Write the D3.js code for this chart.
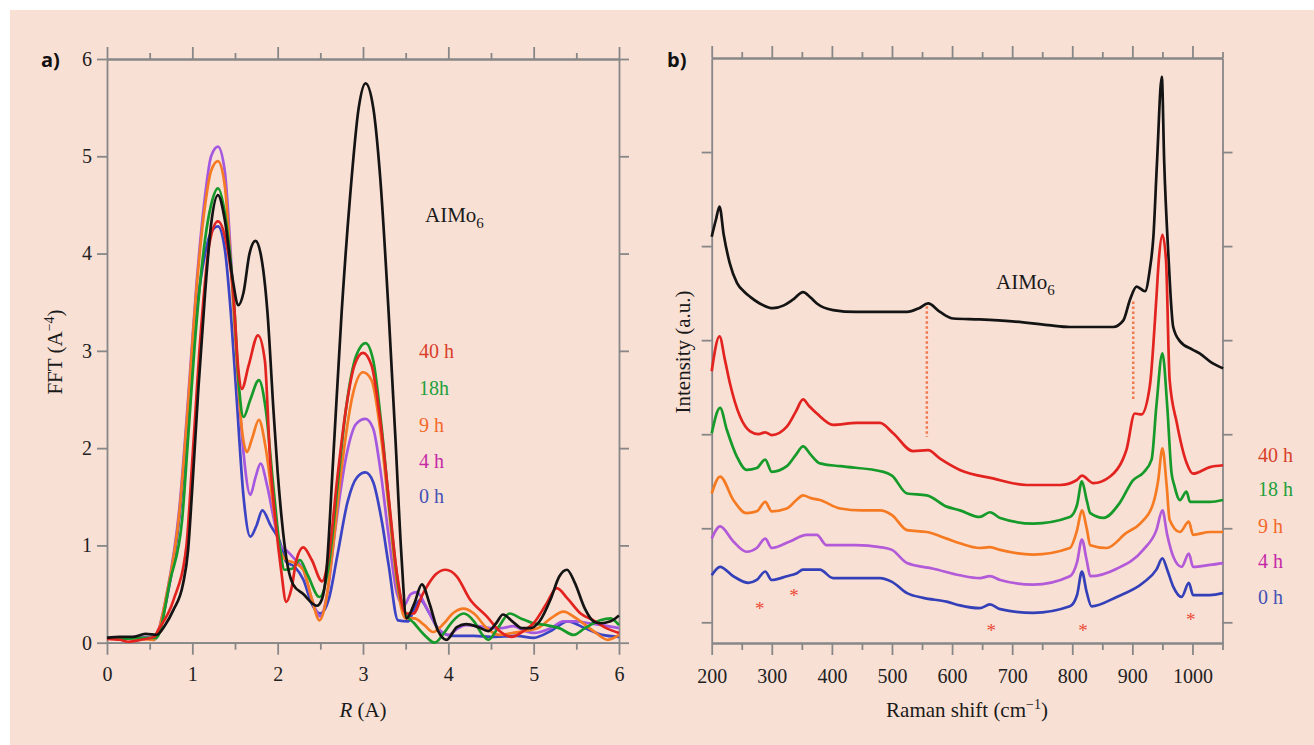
<!DOCTYPE html>
<html>
<head>
<meta charset="utf-8">
<script src="https://cdn.jsdelivr.net/npm/d3@7"></script>
<style>
  body { margin: 0; background: #fff; }
  text { font-family: "Liberation Serif", "Times New Roman", serif; }
</style>
</head>
<body>
<svg id="chart" width="1314" height="745"></svg>
<script>
// ---- panel a: FFT magnitude vs R ----
const rMajor = [0, 1, 2, 3, 4, 5, 6]
const rMinor = [0.5, 1.5, 2.5, 3.5, 4.5, 5.5]
const fftTicks = [0, 1, 2, 3, 4, 5, 6]

const fftAlMo6 = [[0,0.05],[0.15,0.06],[0.3,0.06],[0.45,0.09],[0.58,0.08],[0.68,0.18],[0.78,0.34],[0.89,0.6],[0.95,0.95],[1.0,1.6],[1.07,2.6],[1.15,3.6],[1.22,4.3],[1.3,4.6],[1.38,4.35],[1.47,3.75],[1.54,3.47],[1.6,3.6],[1.67,4.0],[1.74,4.13],[1.8,4.0],[1.88,3.4],[1.95,2.4],[2.0,1.75],[2.05,1.25],[2.1,0.88],[2.18,0.6],[2.3,0.5],[2.46,0.38],[2.52,0.45],[2.57,0.72],[2.65,1.88],[2.75,3.4],[2.85,4.6],[2.95,5.5],[3.03,5.75],[3.12,5.5],[3.2,4.8],[3.3,3.4],[3.38,2.1],[3.45,0.9],[3.51,0.25],[3.6,0.4],[3.69,0.6],[3.78,0.4],[3.88,0.12],[3.98,0.03],[4.1,0.16],[4.21,0.19],[4.35,0.16],[4.47,0.12],[4.56,0.2],[4.64,0.29],[4.75,0.22],[4.86,0.15],[4.96,0.15],[5.07,0.22],[5.2,0.45],[5.3,0.68],[5.39,0.75],[5.48,0.62],[5.6,0.35],[5.7,0.22],[5.78,0.2],[5.9,0.22],[6.0,0.28]]
const fft40h = [[0,0.04],[0.15,0.03],[0.25,0.01],[0.4,0.03],[0.55,0.06],[0.6,0.13],[0.78,0.44],[0.93,0.99],[1.0,1.88],[1.1,3.2],[1.2,4.1],[1.3,4.33],[1.4,4.1],[1.48,3.6],[1.54,2.8],[1.58,2.61],[1.66,2.85],[1.77,3.16],[1.85,2.9],[1.91,1.9],[1.98,1.2],[2.04,0.75],[2.1,0.42],[2.16,0.55],[2.22,0.85],[2.3,0.98],[2.4,0.85],[2.52,0.63],[2.6,0.9],[2.7,1.7],[2.8,2.4],[2.9,2.85],[3.0,2.98],[3.1,2.85],[3.2,2.3],[3.3,1.5],[3.4,0.7],[3.5,0.3],[3.59,0.3],[3.7,0.5],[3.85,0.7],[3.97,0.75],[4.1,0.68],[4.25,0.45],[4.45,0.27],[4.6,0.12],[4.74,0.06],[4.88,0.12],[5.0,0.2],[5.15,0.4],[5.27,0.56],[5.4,0.45],[5.55,0.3],[5.7,0.23],[5.85,0.15],[6.0,0.1]]
const fft18h = [[0,0.05],[0.2,0.04],[0.4,0.05],[0.58,0.05],[0.74,0.64],[0.88,1.26],[0.95,2.1],[1.05,3.3],[1.15,4.15],[1.22,4.5],[1.3,4.67],[1.4,4.3],[1.48,3.6],[1.55,2.6],[1.6,2.32],[1.68,2.5],[1.78,2.7],[1.86,2.4],[1.95,1.6],[2.03,0.95],[2.08,0.75],[2.17,0.76],[2.26,0.85],[2.35,0.7],[2.49,0.47],[2.6,0.8],[2.7,1.6],[2.8,2.4],[2.92,2.95],[3.03,3.08],[3.12,2.9],[3.22,2.2],[3.32,1.3],[3.42,0.55],[3.5,0.3],[3.6,0.2],[3.72,0.08],[3.84,0.0],[3.95,0.1],[4.05,0.22],[4.18,0.3],[4.3,0.22],[4.4,0.08],[4.47,0.03],[4.58,0.15],[4.72,0.3],[4.85,0.25],[5.0,0.2],[5.15,0.18],[5.3,0.15],[5.47,0.08],[5.6,0.15],[5.78,0.23],[5.9,0.25],[6.0,0.18]]
const fft9h = [[0,0.04],[0.2,0.05],[0.4,0.04],[0.55,0.03],[0.7,0.5],[0.85,1.35],[0.95,2.45],[1.05,3.65],[1.15,4.5],[1.22,4.85],[1.3,4.95],[1.38,4.7],[1.45,3.9],[1.52,2.9],[1.58,2.2],[1.64,1.96],[1.7,2.1],[1.78,2.29],[1.86,2.0],[1.95,1.4],[2.03,0.95],[2.1,0.85],[2.2,0.82],[2.3,0.75],[2.4,0.45],[2.49,0.23],[2.56,0.4],[2.65,1.0],[2.75,1.8],[2.88,2.55],[3.0,2.78],[3.1,2.7],[3.2,2.2],[3.3,1.4],[3.4,0.6],[3.5,0.25],[3.6,0.25],[3.72,0.18],[3.82,0.11],[3.95,0.2],[4.05,0.3],[4.18,0.35],[4.3,0.3],[4.45,0.15],[4.6,0.08],[4.75,0.1],[4.9,0.12],[5.05,0.15],[5.2,0.25],[5.35,0.32],[5.5,0.25],[5.7,0.12],[5.87,0.03],[6.0,0.08]]
const fft4h = [[0,0.05],[0.2,0.05],[0.4,0.06],[0.55,0.05],[0.7,0.5],[0.85,1.4],[0.95,2.5],[1.05,3.7],[1.15,4.6],[1.22,5.0],[1.3,5.1],[1.38,4.85],[1.45,4.0],[1.52,2.9],[1.6,1.95],[1.68,1.52],[1.74,1.7],[1.8,1.84],[1.88,1.6],[1.96,1.25],[2.03,1.0],[2.1,0.95],[2.2,0.86],[2.3,0.75],[2.4,0.45],[2.5,0.27],[2.58,0.5],[2.68,1.2],[2.8,1.9],[2.92,2.25],[3.03,2.3],[3.12,2.2],[3.2,1.8],[3.3,1.1],[3.4,0.5],[3.48,0.38],[3.56,0.5],[3.63,0.52],[3.75,0.35],[3.88,0.15],[4.0,0.08],[4.1,0.14],[4.2,0.18],[4.35,0.17],[4.5,0.15],[4.62,0.15],[4.76,0.17],[4.9,0.12],[5.0,0.1],[5.2,0.15],[5.35,0.22],[5.5,0.22],[5.65,0.2],[5.8,0.18],[6.0,0.15]]
const fft0h = [[0,0.05],[0.2,0.05],[0.4,0.06],[0.55,0.03],[0.7,0.45],[0.85,1.3],[0.95,2.3],[1.05,3.4],[1.15,4.0],[1.22,4.22],[1.3,4.28],[1.38,4.05],[1.45,3.4],[1.52,2.5],[1.6,1.5],[1.68,1.09],[1.75,1.2],[1.82,1.36],[1.92,1.2],[2.02,1.05],[2.1,0.83],[2.2,0.78],[2.3,0.65],[2.4,0.4],[2.5,0.3],[2.6,0.45],[2.7,0.9],[2.82,1.45],[2.93,1.7],[3.03,1.75],[3.12,1.65],[3.22,1.25],[3.3,0.8],[3.41,0.23],[3.53,0.22],[3.6,0.35],[3.67,0.44],[3.78,0.3],[3.9,0.12],[4.06,0.07],[4.3,0.07],[4.5,0.06],[4.8,0.07],[5.0,0.05],[5.2,0.12],[5.4,0.22],[5.6,0.15],[5.8,0.08],[6.0,0.06]]

// ---- panel b: Raman spectra (offset, a.u.) ----
const ramanMajor = [200, 300, 400, 500, 600, 700, 800, 900, 1000]
const ramanMinor = [250, 350, 450, 550, 650, 750, 850, 950, 1050]
const intensityTicks = [1, 2, 3, 4, 5, 6]

const ramanAlMo6 = [[200,5.10],[207,5.28],[213,5.42],[220,5.12],[230,4.82],[242,4.61],[255,4.51],[264,4.46],[280,4.39],[302,4.34],[320,4.37],[335,4.43],[352,4.51],[365,4.45],[375,4.39],[402,4.32],[440,4.30],[480,4.30],[525,4.30],[545,4.34],[560,4.39],[580,4.30],[602,4.23],[646,4.22],[700,4.20],[760,4.16],[796,4.14],[868,4.14],[885,4.21],[896,4.43],[907,4.57],[921,4.52],[929,4.75],[935,5.10],[941,5.89],[949,6.80],[953,5.89],[960,4.90],[968,4.14],[979,3.99],[1000,3.90],[1012,3.86],[1030,3.77],[1051,3.70]]
const raman40h = [[200,3.67],[213,4.04],[222,3.79],[230,3.55],[247,3.19],[264,3.03],[278,3.00],[289,3.02],[300,2.99],[325,3.08],[340,3.24],[352,3.37],[362,3.30],[375,3.22],[402,3.10],[441,3.12],[480,3.12],[502,3.01],[535,2.82],[560,2.83],[580,2.74],[613,2.62],[668,2.53],[724,2.46],[780,2.46],[807,2.51],[816,2.56],[835,2.48],[863,2.55],[884,2.73],[890,2.83],[904,3.22],[915,3.21],[929,3.51],[940,4.45],[944,4.85],[950,5.12],[956,4.85],[962,3.58],[974,3.12],[990,2.70],[1001,2.58],[1029,2.65],[1051,2.67]]
const raman18h = [[200,3.01],[214,3.28],[225,3.05],[242,2.76],[258,2.62],[275,2.64],[289,2.73],[300,2.60],[325,2.66],[340,2.78],[352,2.87],[365,2.78],[380,2.69],[414,2.66],[486,2.60],[500,2.56],[525,2.37],[558,2.35],[591,2.23],[613,2.19],[646,2.12],[663,2.17],[680,2.11],[735,2.05],[796,2.12],[808,2.25],[816,2.50],[824,2.30],[830,2.16],[852,2.11],[879,2.27],[901,2.51],[918,2.59],[932,2.73],[940,3.30],[950,3.86],[958,3.30],[965,2.60],[970,2.45],[979,2.30],[990,2.39],[996,2.28],[1029,2.28],[1051,2.30]]
const raman9h = [[200,2.37],[214,2.55],[236,2.30],[258,2.16],[275,2.18],[289,2.28],[300,2.18],[325,2.21],[341,2.30],[352,2.35],[365,2.32],[380,2.30],[414,2.21],[450,2.19],[480,2.19],[500,2.14],[525,1.98],[558,1.96],[591,1.89],[613,1.84],[646,1.79],[663,1.80],[680,1.77],[735,1.72],[796,1.79],[808,1.98],[816,2.19],[824,2.00],[830,1.82],[857,1.79],[890,1.95],[913,2.05],[935,2.27],[943,2.51],[950,2.85],[957,2.46],[962,2.09],[979,1.96],[994,2.07],[1001,1.93],[1029,1.96],[1051,1.96]]
const raman4h = [[200,1.89],[214,2.02],[236,1.86],[258,1.75],[275,1.79],[289,1.89],[300,1.79],[330,1.86],[358,1.93],[375,1.93],[391,1.82],[440,1.82],[480,1.80],[500,1.77],[525,1.63],[569,1.57],[613,1.50],[646,1.47],[663,1.49],[680,1.45],[735,1.40],[796,1.49],[808,1.64],[816,1.88],[824,1.66],[830,1.49],[874,1.57],[918,1.77],[940,1.98],[950,2.19],[958,1.93],[968,1.70],[982,1.59],[994,1.73],[1001,1.59],[1029,1.61],[1051,1.63]]
const raman0h = [[200,1.50],[214,1.59],[236,1.49],[261,1.42],[275,1.45],[289,1.54],[300,1.45],[325,1.49],[341,1.52],[352,1.56],[380,1.56],[402,1.47],[480,1.47],[500,1.43],[525,1.31],[552,1.26],[591,1.22],[613,1.18],[646,1.15],[663,1.19],[680,1.14],[735,1.10],[796,1.17],[808,1.29],[816,1.54],[824,1.32],[832,1.17],[874,1.27],[918,1.42],[940,1.56],[950,1.68],[958,1.56],[968,1.38],[982,1.27],[994,1.42],[1001,1.29],[1029,1.29],[1051,1.31]]

const markerLines = [[558, 4.36, 2.97], [901.5, 4.41, 3.35]]   // [shift, top, bottom]
const starMarks = [[280, 1.17], [337, 1.31], [665, 0.93], [818, 0.93], [997, 1.05]]

const axisColor = '#878787'
const bg = '#f9e0d5'

let svg = d3.select('#chart')
svg.append('rect').attr('x', 10).attr('y', 10).attr('width', 1304).attr('height', 735).attr('fill', bg)

function styleAxis(g) {
    g.selectAll('path, line').attr('stroke', axisColor).attr('stroke-width', 1.8)
    g.selectAll('text').attr('font-size', '20px').attr('fill', '#222')
}

// draws all four sides of a box with major/minor ticks
function drawFrame(g, x, y, xMajor, xMinor, yTicks, padBottom, showY) {
    let [x0, x1] = x.range()
    let [y0, y1] = y.range()
    g.append('g').attr('transform', `translate(0,${y0})`)
        .call(d3.axisBottom(x).tickValues(xMajor).tickFormat(d3.format('d')).tickSize(12).tickPadding(padBottom).tickSizeOuter(0))
        .call(styleAxis)
    g.append('g').attr('transform', `translate(0,${y0})`)
        .call(d3.axisBottom(x).tickValues(xMinor).tickFormat('').tickSize(7).tickSizeOuter(0))
        .call(styleAxis)
    g.append('g').attr('transform', `translate(0,${y1})`)
        .call(d3.axisTop(x).tickValues(xMajor).tickFormat('').tickSize(12).tickSizeOuter(0))
        .call(styleAxis)
    g.append('g').attr('transform', `translate(0,${y1})`)
        .call(d3.axisTop(x).tickValues(xMinor).tickFormat('').tickSize(6).tickSizeOuter(0))
        .call(styleAxis)
    g.append('g').attr('transform', `translate(${x0},0)`)
        .call(d3.axisLeft(y).tickValues(yTicks).tickFormat(showY ? d3.format('d') : '').tickSize(10).tickPadding(5).tickSizeOuter(0))
        .call(styleAxis)
    g.append('g').attr('transform', `translate(${x1},0)`)
        .call(d3.axisRight(y).tickValues(yTicks).tickFormat('').tickSize(10).tickSizeOuter(0))
        .call(styleAxis)
}

function label(g, x, y, txt, color, size) {
    return g.append('text').attr('x', x).attr('y', y)
        .attr('font-size', size || '20px').attr('fill', color || '#1a1a1a').text(txt)
}

function alMoLabel(g, x, y) {
    let t = g.append('text').attr('x', x).attr('y', y).attr('font-size', '21px').attr('fill', '#1a1a1a')
    t.append('tspan').text('AIMo')
    t.append('tspan').attr('dy', 6).attr('font-size', '15px').text('6')
}

function panelTag(g, x, y, txt) {
    g.append('text').attr('x', x).attr('y', y).text(txt)
        .style('font-family', '"Open Sans", "DejaVu Sans", sans-serif')
        .style('font-weight', 'bold').style('font-size', '20px').attr('fill', '#111')
}

// ---------- panel a ----------
let xA = d3.scaleLinear().domain([0, 6]).range([107, 619])
let yA = d3.scaleLinear().domain([0, 6]).range([642.7, 59])
let gA = svg.append('g')
drawFrame(gA, xA, yA, rMajor, rMinor, fftTicks, 12, true)

let lineA = d3.line().x(d => xA(d[0])).y(d => yA(d[1])).curve(d3.curveMonotoneX)
let seriesA = [
    { data: fft0h, color: '#3a44c4' },
    { data: fft4h, color: '#a458e0' },
    { data: fft9h, color: '#f57a22' },
    { data: fft18h, color: '#169a2a' },
    { data: fft40h, color: '#e2231f' },
    { data: fftAlMo6, color: '#141414' }
]
gA.selectAll('path.curve').data(seriesA).enter().append('path')
    .attr('class', 'curve')
    .attr('d', d => lineA(d.data))
    .attr('fill', 'none')
    .attr('stroke', d => d.color)
    .attr('stroke-width', 2.7)
    .attr('stroke-linejoin', 'round')

alMoLabel(gA, 425, 222)
label(gA, 419, 358, '40 h', '#d8402a')
label(gA, 419, 395, '18h', '#22a03a')
label(gA, 419, 432, '9 h', '#f2692a')
label(gA, 419, 468, '4 h', '#c42aa6')
label(gA, 419, 503, '0 h', '#4352b4')

let yTitleA = gA.append('text').attr('transform', 'translate(62,352) rotate(-90)')
    .attr('text-anchor', 'middle').attr('font-size', '21px').attr('fill', '#1a1a1a')
yTitleA.append('tspan').text('FFT (A')
yTitleA.append('tspan').attr('dy', -8).attr('font-size', '14px').text('\u22124')
yTitleA.append('tspan').attr('dy', 8).text(')')

let xTitleA = gA.append('text').attr('x', 363).attr('y', 717)
    .attr('text-anchor', 'middle').attr('font-size', '21px').attr('fill', '#1a1a1a')
xTitleA.append('tspan').attr('font-style', 'italic').text('R')
xTitleA.append('tspan').text(' (A)')

panelTag(gA, 41, 67, 'a)')

// ---------- panel b ----------
let xB = d3.scaleLinear().domain([200, 1050]).range([711.7, 1222.5])
let yB = d3.scaleLinear().domain([0.78, 7]).range([643, 58])
let gB = svg.append('g')
drawFrame(gB, xB, yB, ramanMajor, ramanMinor, intensityTicks, 13.5, false)

let lineB = d3.line().x(d => xB(d[0])).y(d => yB(d[1])).curve(d3.curveMonotoneX)
let seriesB = [
    { data: ramanAlMo6, color: '#141414' },
    { data: raman40h, color: '#e2231f' },
    { data: raman18h, color: '#169a2a' },
    { data: raman9h, color: '#f57a22' },
    { data: raman4h, color: '#b25ad8' },
    { data: raman0h, color: '#3440b8' }
]
gB.selectAll('path.curve').data(seriesB).enter().append('path')
    .attr('class', 'curve')
    .attr('d', d => lineB(d.data))
    .attr('fill', 'none')
    .attr('stroke', d => d.color)
    .attr('stroke-width', 2.7)
    .attr('stroke-linejoin', 'round')

gB.selectAll('line.marker').data(markerLines).enter().append('line')
    .attr('class', 'marker')
    .attr('x1', d => xB(d[0])).attr('x2', d => xB(d[0]))
    .attr('y1', d => yB(d[1])).attr('y2', d => yB(d[2]))
    .attr('stroke', '#ee7a50').attr('stroke-width', 2.5).attr('stroke-dasharray', '2.5,2.5')

gB.selectAll('text.star').data(starMarks).enter().append('text')
    .attr('class', 'star')
    .attr('x', d => xB(d[0])).attr('y', d => yB(d[1]))
    .attr('dy', '0.45em').attr('text-anchor', 'middle')
    .attr('font-size', '19px').attr('fill', '#ea4a36').text('*')

alMoLabel(gB, 996, 289)
label(gB, 1258, 462, '40 h', '#d8402a')
label(gB, 1258, 496, '18 h', '#22a03a')
label(gB, 1258, 533, '9 h', '#f2692a')
label(gB, 1258, 568, '4 h', '#c42aa6')
label(gB, 1258, 604, '0 h', '#4352b4')

gB.append('text').attr('transform', 'translate(690,352) rotate(-90)')
    .attr('text-anchor', 'middle').attr('font-size', '21px').attr('fill', '#1a1a1a')
    .text('Intensity (a.u.)')

let xTitleB = gB.append('text').attr('x', 967).attr('y', 717)
    .attr('text-anchor', 'middle').attr('font-size', '21px').attr('fill', '#1a1a1a')
xTitleB.append('tspan').text('Raman shift (cm')
xTitleB.append('tspan').attr('dy', -8).attr('font-size', '14px').text('\u22121')
xTitleB.append('tspan').attr('dy', 8).text(')')

panelTag(gB, 667, 67, 'b)')
</script>
</body>
</html>
